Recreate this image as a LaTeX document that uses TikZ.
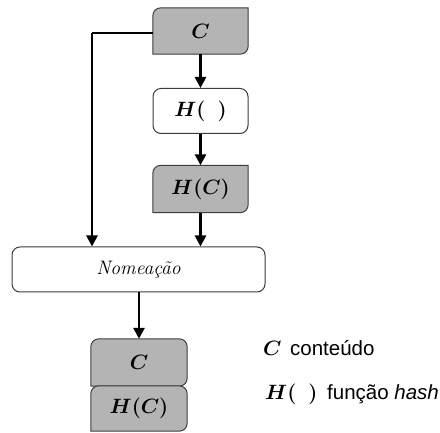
\documentclass[tikz,border=0pt]{standalone}
\usepackage{fontspec}
\setsansfont{Liberation Sans}
\usetikzlibrary{arrows.meta,backgrounds}

\definecolor{boxgray}{RGB}{180,180,180}
\definecolor{boxline}{RGB}{60,60,60}

% outline with rounded top left / bottom right (and optional top right)
\newcommand{\tagbox}[2]{%
  \draw[fill=boxgray, draw=boxline, line width=1pt]
    (#1.south west) -- ([yshift=-8pt]#1.north west)
    arc[start angle=180, end angle=90, radius=8pt]
    -- ([xshift=-#2]#1.north east)
    arc[start angle=90, end angle=0, radius=#2]
    -- ([yshift=8pt]#1.south east)
    arc[start angle=0, end angle=-90, radius=8pt] -- cycle;
}

\tikzset{
  lbl/.style={inner sep=0pt, font=\fontsize{20}{24}\selectfont\boldmath},
  plain/.style={draw=boxline, fill=white, line width=1pt, rounded corners=8pt,
    inner sep=0pt},
  arr/.style={line width=2.8pt, -{Triangle[length=11pt,width=11pt]}},
  legend/.style={anchor=base west, inner sep=0pt,
    font=\fontsize{20.5}{24}\selectfont\sffamily}
}

\begin{document}
\begin{tikzpicture}[x=1pt,y=1pt]
      \useasboundingbox (0,0) rectangle (440,432);

      % chain on the right
      \node[lbl, minimum width=95pt, minimum height=46pt] (cont) at (200.5,401) {$C$};
      \node[plain, lbl, minimum width=95pt, minimum height=45pt] (hfun) at (200.5,321) {$H(\ \ )$};
      \node[lbl, minimum width=95pt, minimum height=47pt] (hcont) at (200.5,243) {$H(C)$};

      % naming box
      \node[plain, minimum width=253pt, minimum height=45pt,
        font=\fontsize{19.5}{24}\selectfont\itshape\addfontfeatures{LetterSpace=4}] (nome) at (138.5,162.5) {Nomeação};

      % result
      \node[lbl, minimum width=96pt, minimum height=47pt] (rcont) at (139,69.5) {$C$};
      \node[lbl, minimum width=96pt, minimum height=45pt] (rhash) at (139,23.5) {$H(C)$};

      \begin{scope}[on background layer]
        \tagbox{cont}{0.01pt}
        \tagbox{hcont}{0.01pt}
        \tagbox{rcont}{8pt}
        \tagbox{rhash}{8pt}
      \end{scope}

      % connectors
      \coordinate (turn) at (92,399);
      \draw[line width=2.8pt] (cont.west |- turn) -- (turn);
      \draw[arr] (turn) -- (turn |- nome.north);
      \draw[arr] (cont) -- (hfun);
      \draw[arr] (hfun) -- (hcont);
      \draw[arr] (hcont) -- (hcont |- nome.north);
      \draw[arr] (nome.south -| rcont) -- (rcont);

      % legend
      \node[lbl, anchor=base west] (legc) at (263,76) {$C$};
      \node[legend] (legct) at (290,76) {conteúdo};
      \node[lbl, anchor=base west] (legh) at (265,33) {$H(\ \ )$};
      \node[legend] (leght) at (327,33) {função \textit{hash}};
\end{tikzpicture}
\end{document}
